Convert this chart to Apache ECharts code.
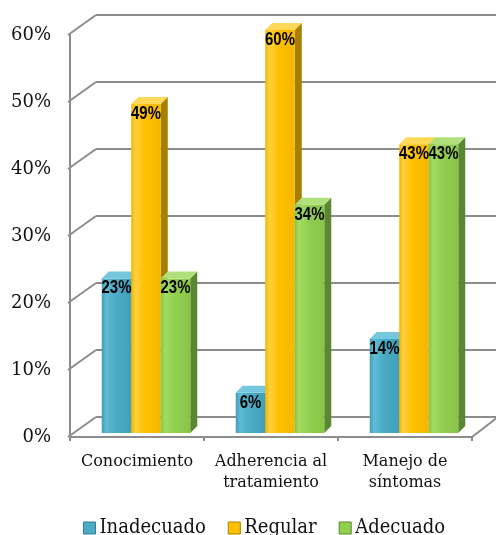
<!DOCTYPE html>
<html>
<head>
<meta charset="utf-8">
<script src="https://cdn.jsdelivr.net/npm/echarts@6/dist/echarts.min.js"></script>
<style>html,body{margin:0;padding:0;background:#fff}#c{width:496px;height:535px}</style>
</head>
<body>
<div id="c"></div>
<script>
const categories = ['Conocimiento', 'Adherencia al\ntratamiento', 'Manejo de\nsíntomas'];
const seriesNames = ['Inadecuado', 'Regular', 'Adecuado'];
const inadecuado = [23, 6, 14];
const regular = [49, 60, 43];
const adecuado = [23, 34, 43];
const yTicks = [0, 10, 20, 30, 40, 50, 60];

const palette = [
  {front: ['#3f9db5', '#5fbcd4', '#4bacc6', '#429fb8'], side: '#347f92', top: '#74c7dc', legend: '#4bacc6'},
  {front: ['#f2b600', '#ffd040', '#ffc000', '#f4b800'], side: '#a87f00', top: '#ffd858', legend: '#ffc000'},
  {front: ['#86c447', '#a2dc62', '#92d050', '#88c449'], side: '#5c8732', top: '#b0e07c', legend: '#92d050'}
];
const DX = 7, DY = 7, BW = 29.5;
const WALL_DX = 26, WALL_DY = -20;
const GRID = '#8c8c8c';
const SERIF = '"DejaVu Serif", serif';
const SERIF_C = '"DejaVu Serif Condensed", "DejaVu Serif", serif';

function barSeries(k, values) {
  return {
    name: seriesNames[k],
    type: 'custom',
    xAxisIndex: 2, yAxisIndex: 2,
    itemStyle: {color: palette[k].legend},
    data: values.map((v, i) => [i, v]),
    renderItem: function (params, api) {
      const i = api.value(0), v = api.value(1);
      const b = api.coord([i, 0]);
      const t = api.coord([i, v]);
      const cx = b[0] + (k - 1) * BW;
      const x0 = cx - BW / 2, x1 = cx + BW / 2;
      const yb = b[1], yt = t[1];
      const p = palette[k];
      return {
        type: 'group',
        children: [
          {type: 'rect', shape: {x: x0, y: yt, width: BW, height: yb - yt},
            style: {fill: new echarts.graphic.LinearGradient(0, 0, 1, 0, [
              {offset: 0, color: p.front[0]}, {offset: 0.15, color: p.front[1]},
              {offset: 0.45, color: p.front[2]}, {offset: 1, color: p.front[3]}])}, z2: 2},
          {type: 'polygon', shape: {points: [[x1, yt], [x1 + DX, yt - DY], [x1 + DX, yb - DY], [x1, yb]]},
            style: {fill: p.side}, z2: 1},
          {type: 'polygon', shape: {points: [[x0, yt], [x0 + DX, yt - DY], [x1 + DX, yt - DY], [x1, yt]]},
            style: {fill: p.top}, z2: 2},
          {type: 'text', x: cx, y: yt + 1, scaleX: 0.83, scaleY: 1,
            style: {text: v + '%', x: 0, y: 0, align: 'center', verticalAlign: 'top',
              font: 'bold 18px "Liberation Sans", Arial, sans-serif', fill: '#000'}, z2: 5}
        ]
      };
    }
  };
}

const chart = echarts.init(document.getElementById('c'), null, {renderer: 'canvas'});
chart.setOption({
  animation: false,
  backgroundColor: '#fff',
  grid: [
    {left: 70, top: 35, width: 402, height: 402},
    {left: 96, top: 15, width: 420, height: 402},
    {left: 79, top: 30, width: 402, height: 403}
  ],
  xAxis: [
    {gridIndex: 0, type: 'category', data: categories,
      axisLine: {lineStyle: {color: GRID, width: 2}},
      axisTick: {show: true, length: 4, lineStyle: {color: GRID, width: 2}},
      axisLabel: {interval: 0, margin: 14, color: '#111', fontFamily: SERIF, fontSize: 16, lineHeight: 21}},
    {gridIndex: 1, type: 'category', data: categories, show: false},
    {gridIndex: 2, type: 'category', data: categories, show: false}
  ],
  yAxis: [
    {gridIndex: 0, type: 'value', min: 0, max: 60, interval: 10,
      axisLine: {show: true, lineStyle: {color: GRID, width: 2}},
      axisTick: {show: false},
      splitLine: {show: false},
      axisLabel: {margin: 19, color: '#111', fontFamily: SERIF, fontSize: 18,
        formatter: v => v + '%'}},
    {gridIndex: 1, type: 'value', min: 0, max: 60, interval: 10,
      axisLine: {show: false}, axisTick: {show: false}, axisLabel: {show: false},
      splitLine: {show: true, lineStyle: {color: GRID, width: 2}}},
    {gridIndex: 2, type: 'value', min: 0, max: 60, interval: 10, show: false,
      splitLine: {show: false}}
  ],
  legend: {
    left: 78, top: 513, itemWidth: 12, itemHeight: 12, itemGap: 22,
    icon: 'rect',
    textStyle: {fontFamily: SERIF_C, fontSize: 20, color: '#111', padding: [0, 0, 0, -1]},
    data: seriesNames.map((n, k) => ({name: n, itemStyle: {color: palette[k].legend, borderColor: palette[k].side, borderWidth: 1}}))
  },
  series: [
    {
      type: 'custom', xAxisIndex: 0, yAxisIndex: 0, silent: true,
      data: yTicks.map(v => [0, v]),
      renderItem: function (params, api) {
        const cs = params.coordSys;
        const y = api.coord([0, api.value(1)])[1];
        const children = [{type: 'line', shape: {x1: cs.x - 2, y1: y, x2: cs.x + WALL_DX, y2: y + WALL_DY},
          style: {stroke: GRID, lineWidth: 2}}];
        if (api.value(1) === 0) {
          children.push({type: 'line', shape: {x1: cs.x + cs.width, y1: y, x2: cs.x + cs.width + WALL_DX, y2: y + WALL_DY},
            style: {stroke: GRID, lineWidth: 2}});
        }
        return {type: 'group', children: children};
      }
    },
    barSeries(0, inadecuado),
    barSeries(1, regular),
    barSeries(2, adecuado)
  ]
});
</script>
</body>
</html>
